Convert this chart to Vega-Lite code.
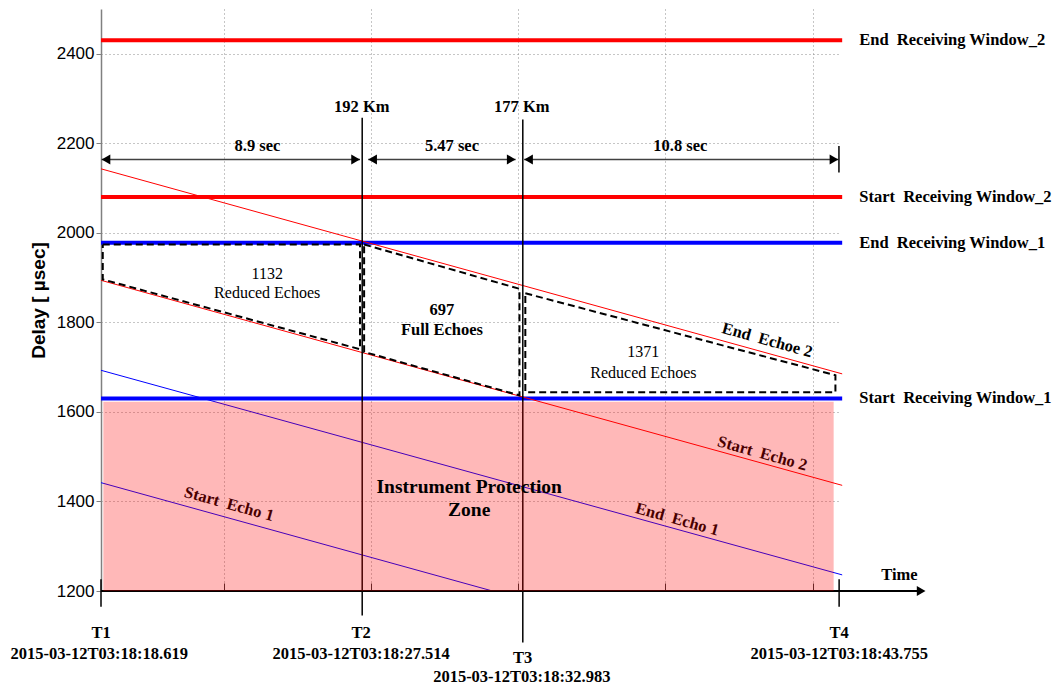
{
  "$schema": "https://vega.github.io/schema/vega-lite/v6.json",
  "width": 740,
  "height": 582,
  "autosize": {"type": "none"},
  "padding": {"left": 101, "top": 9, "right": 214, "bottom": 96},
  "background": "white",
  "config": {"view": {"stroke": null}},
  "datasets": {
    "windows": [
      {"label": "End\u00a0 Receiving Window_2", "win": "Window 2", "t0": 0, "t1": 25.24, "delay": 2430},
      {"label": "Start\u00a0 Receiving Window_2", "win": "Window 2", "t0": 0, "t1": 25.24, "delay": 2080},
      {"label": "End\u00a0 Receiving Window_1", "win": "Window 1", "t0": 0, "t1": 25.24, "delay": 1978},
      {"label": "Start\u00a0 Receiving Window_1", "win": "Window 1", "t0": 0, "t1": 25.24, "delay": 1630}
    ],
    "echoes": [
      {"echo": "End Echo 2", "win": "Window 2", "t0": 0, "d0": 2143, "t1": 25.24, "d1": 1685},
      {"echo": "Start Echo 2", "win": "Window 2", "t0": 0, "d0": 1894, "t1": 25.24, "d1": 1436},
      {"echo": "End Echo 1", "win": "Window 1", "t0": 0, "d0": 1693, "t1": 25.24, "d1": 1236},
      {"echo": "Start Echo 1", "win": "Window 1", "t0": 0, "d0": 1442, "t1": 13.33, "d1": 1200}
    ],
    "markers": [
      {"marker": "T1", "t": 0, "top": 1226, "bottom": 1165},
      {"marker": "T2", "t": 8.895, "top": 2257, "bottom": 1145},
      {"marker": "T3", "t": 14.364, "top": 2253, "bottom": 1085},
      {"marker": "T4", "t": 25.136, "top": 1226, "bottom": 1165}
    ],
    "polys": [
      {"poly": "A", "i": 0, "t": 0.06, "delay": 1974},
      {"poly": "A", "i": 1, "t": 8.82, "delay": 1974},
      {"poly": "A", "i": 2, "t": 8.82, "delay": 1740},
      {"poly": "A", "i": 3, "t": 0.06, "delay": 1896},
      {"poly": "A", "i": 4, "t": 0.06, "delay": 1974},
      {"poly": "B", "i": 0, "t": 8.96, "delay": 1974},
      {"poly": "B", "i": 1, "t": 14.25, "delay": 1875},
      {"poly": "B", "i": 2, "t": 14.25, "delay": 1637},
      {"poly": "B", "i": 3, "t": 8.96, "delay": 1734},
      {"poly": "B", "i": 4, "t": 8.96, "delay": 1974},
      {"poly": "C", "i": 0, "t": 14.45, "delay": 1865},
      {"poly": "C", "i": 1, "t": 25.01, "delay": 1682},
      {"poly": "C", "i": 2, "t": 25.01, "delay": 1644},
      {"poly": "C", "i": 3, "t": 14.45, "delay": 1644},
      {"poly": "C", "i": 4, "t": 14.45, "delay": 1865}
    ],
    "dims": [
      {"label": "8.9 sec", "t0": 0.02, "t1": 8.82, "delay": 2164},
      {"label": "5.47 sec", "t0": 9.1, "t1": 14.12, "delay": 2164},
      {"label": "10.8 sec", "t0": 14.41, "t1": 25.11, "delay": 2164}
    ],
    "dimbar": [
      {"t": 25.13, "top": 2194, "bottom": 2135}
    ],
    "heads": [
      {"t": 0.17, "delay": 2164, "dir": "left"},
      {"t": 8.67, "delay": 2164, "dir": "right"},
      {"t": 9.25, "delay": 2164, "dir": "left"},
      {"t": 13.97, "delay": 2164, "dir": "right"},
      {"t": 14.56, "delay": 2164, "dir": "left"},
      {"t": 24.96, "delay": 2164, "dir": "right"},
      {"t": 27.93, "delay": 1200, "dir": "right"}
    ],
    "baseline": [
      {"t0": 0, "t1": 27.93, "delay": 1200}
    ],
    "rotated": [
      {"text": "Start\u00a0 Echo 1", "t": 4.36, "delay": 1394},
      {"text": "End\u00a0 Echo 1", "t": 19.62, "delay": 1360},
      {"text": "Start\u00a0 Echo 2", "t": 22.52, "delay": 1507},
      {"text": "End\u00a0 Echoe 2", "t": 22.69, "delay": 1760}
    ],
    "counts": [
      {"text": "1132", "t": 5.66, "delay": 1907},
      {"text": "Reduced Echoes", "t": 5.66, "delay": 1865},
      {"text": "1371", "t": 18.47, "delay": 1733},
      {"text": "Reduced Echoes", "t": 18.47, "delay": 1688}
    ],
    "boldtext": [
      {"text": "697", "t": 11.61, "delay": 1827},
      {"text": "Full Echoes", "t": 11.61, "delay": 1783},
      {"text": "8.9 sec", "t": 5.33, "delay": 2194},
      {"text": "5.47 sec", "t": 11.95, "delay": 2194},
      {"text": "10.8 sec", "t": 19.73, "delay": 2194},
      {"text": "192 Km", "t": 8.88, "delay": 2282},
      {"text": "177 Km", "t": 14.33, "delay": 2282},
      {"text": "T1", "t": 0, "delay": 1107},
      {"text": "2015-03-12T03:18:18.619", "t": -0.06, "delay": 1060},
      {"text": "T2", "t": 8.86, "delay": 1107},
      {"text": "2015-03-12T03:18:27.514", "t": 8.86, "delay": 1060},
      {"text": "T3", "t": 14.36, "delay": 1051},
      {"text": "2015-03-12T03:18:32.983", "t": 14.33, "delay": 1007},
      {"text": "T4", "t": 25.14, "delay": 1107},
      {"text": "2015-03-12T03:18:43.755", "t": 25.14, "delay": 1060},
      {"text": "Time", "t": 27.19, "delay": 1235}
    ],
    "zone": [
      {"t0": 0.08, "t1": 24.95, "d0": 1200, "d1": 1623}
    ],
    "zonetext": [
      {"text": "Instrument Protection", "t": 12.54, "delay": 1433},
      {"text": "Zone", "t": 12.54, "delay": 1382}
    ]
  },
  "layer": [
    {
      "data": {"name": "windows"},
      "mark": {"type": "rule", "strokeWidth": 4},
      "encoding": {
        "x": {
          "field": "t0", "type": "quantitative",
          "scale": {"domain": [0, 25.2], "nice": false, "zero": false},
          "axis": {
            "title": null, "values": [4.19, 9.21, 14.2, 19.22, 24.25], "labels": false,
            "domain": false, "grid": true, "gridDash": [1, 3], "gridColor": "#8c8c8c", "gridOpacity": 1,
            "ticks": true, "tickSize": -8, "tickColor": "#333333"
          }
        },
        "x2": {"field": "t1"},
        "y": {
          "field": "delay", "type": "quantitative",
          "scale": {"domain": [1200, 2500], "nice": false, "zero": false},
          "axis": {
            "title": "Delay [ µsec]", "values": [1200, 1400, 1600, 1800, 2000, 2200, 2400], "format": "d",
            "grid": true, "gridDash": [1, 3], "gridColor": "#8c8c8c", "gridOpacity": 1,
            "domainColor": "#808080", "domainWidth": 1.5, "tickColor": "#808080", "tickSize": 5,
            "labelPadding": 2, "labelFont": "Liberation Sans", "labelFontSize": 17, "labelColor": "#000000",
            "titleFont": "Liberation Sans", "titleFontSize": 19, "titleFontWeight": "bold", "titleColor": "#000000",
            "titlePadding": 8
          }
        },
        "color": {"field": "win", "type": "nominal", "scale": {"domain": ["Window 1", "Window 2"], "range": ["#0000ff", "#ff0000"]}, "legend": null}
      }
    },
    {
      "data": {"name": "echoes"},
      "mark": {"type": "rule", "strokeWidth": 1},
      "encoding": {
        "x": {"field": "t0", "type": "quantitative"},
        "x2": {"field": "t1"},
        "y": {"field": "d0", "type": "quantitative"},
        "y2": {"field": "d1"},
        "color": {"field": "win", "type": "nominal", "legend": null}
      }
    },
    {
      "data": {"name": "markers"},
      "mark": {"type": "rule", "strokeWidth": 1.5, "color": "#000000"},
      "encoding": {
        "x": {"field": "t", "type": "quantitative"},
        "y": {"field": "top", "type": "quantitative"},
        "y2": {"field": "bottom"}
      }
    },
    {
      "data": {"name": "polys"},
      "mark": {"type": "line", "strokeWidth": 2, "strokeDash": [7, 4], "color": "#000000"},
      "encoding": {
        "x": {"field": "t", "type": "quantitative"},
        "y": {"field": "delay", "type": "quantitative"},
        "detail": {"field": "poly", "type": "nominal"},
        "order": {"field": "i", "type": "quantitative"}
      }
    },
    {
      "data": {"name": "dims"},
      "mark": {"type": "rule", "strokeWidth": 1.5, "color": "#404040"},
      "encoding": {
        "x": {"field": "t0", "type": "quantitative"},
        "x2": {"field": "t1"},
        "y": {"field": "delay", "type": "quantitative"}
      }
    },
    {
      "data": {"name": "dimbar"},
      "mark": {"type": "rule", "strokeWidth": 1.5, "color": "#000000"},
      "encoding": {
        "x": {"field": "t", "type": "quantitative"},
        "y": {"field": "top", "type": "quantitative"},
        "y2": {"field": "bottom"}
      }
    },
    {
      "data": {"name": "baseline"},
      "mark": {"type": "rule", "strokeWidth": 1.8, "color": "#000000"},
      "encoding": {
        "x": {"field": "t0", "type": "quantitative"},
        "x2": {"field": "t1"},
        "y": {"field": "delay", "type": "quantitative"}
      }
    },
    {
      "data": {"name": "heads"},
      "mark": {"type": "point", "filled": true, "size": 100, "color": "#000000", "opacity": 1, "strokeWidth": 0},
      "encoding": {
        "x": {"field": "t", "type": "quantitative"},
        "y": {"field": "delay", "type": "quantitative"},
        "shape": {"field": "dir", "type": "nominal", "scale": {"domain": ["left", "right"], "range": ["triangle-left", "triangle-right"]}, "legend": null}
      }
    },
    {
      "data": {"name": "rotated"},
      "mark": {"type": "text", "font": "Liberation Serif", "fontWeight": "bold", "fontSize": 16.5, "angle": 15.5, "align": "center", "baseline": "middle", "color": "#000000"},
      "encoding": {
        "x": {"field": "t", "type": "quantitative"},
        "y": {"field": "delay", "type": "quantitative"},
        "text": {"field": "text"}
      }
    },
    {
      "data": {"name": "counts"},
      "mark": {"type": "text", "font": "Liberation Serif", "fontSize": 16, "align": "center", "baseline": "middle", "color": "#000000"},
      "encoding": {
        "x": {"field": "t", "type": "quantitative"},
        "y": {"field": "delay", "type": "quantitative"},
        "text": {"field": "text"}
      }
    },
    {
      "data": {"name": "boldtext"},
      "mark": {"type": "text", "font": "Liberation Serif", "fontWeight": "bold", "fontSize": 16.5, "align": "center", "baseline": "middle", "color": "#000000"},
      "encoding": {
        "x": {"field": "t", "type": "quantitative"},
        "y": {"field": "delay", "type": "quantitative"},
        "text": {"field": "text"}
      }
    },
    {
      "data": {"name": "zone"},
      "mark": {"type": "rect", "color": "#ff0000", "opacity": 0.28},
      "encoding": {
        "x": {"field": "t0", "type": "quantitative"},
        "x2": {"field": "t1"},
        "y": {"field": "d0", "type": "quantitative"},
        "y2": {"field": "d1"}
      }
    },
    {
      "data": {"name": "zonetext"},
      "mark": {"type": "text", "font": "Liberation Serif", "fontWeight": "bold", "fontSize": 19.5, "align": "center", "baseline": "middle", "color": "#000000"},
      "encoding": {
        "x": {"field": "t", "type": "quantitative"},
        "y": {"field": "delay", "type": "quantitative"},
        "text": {"field": "text"}
      }
    },
    {
      "data": {"name": "windows"},
      "mark": {"type": "text", "font": "Liberation Serif", "fontWeight": "bold", "fontSize": 16.5, "align": "left", "baseline": "middle", "color": "#000000"},
      "encoding": {
        "x": {"datum": 25.82, "type": "quantitative"},
        "y": {"field": "delay", "type": "quantitative"},
        "text": {"field": "label"}
      }
    }
  ]
}
